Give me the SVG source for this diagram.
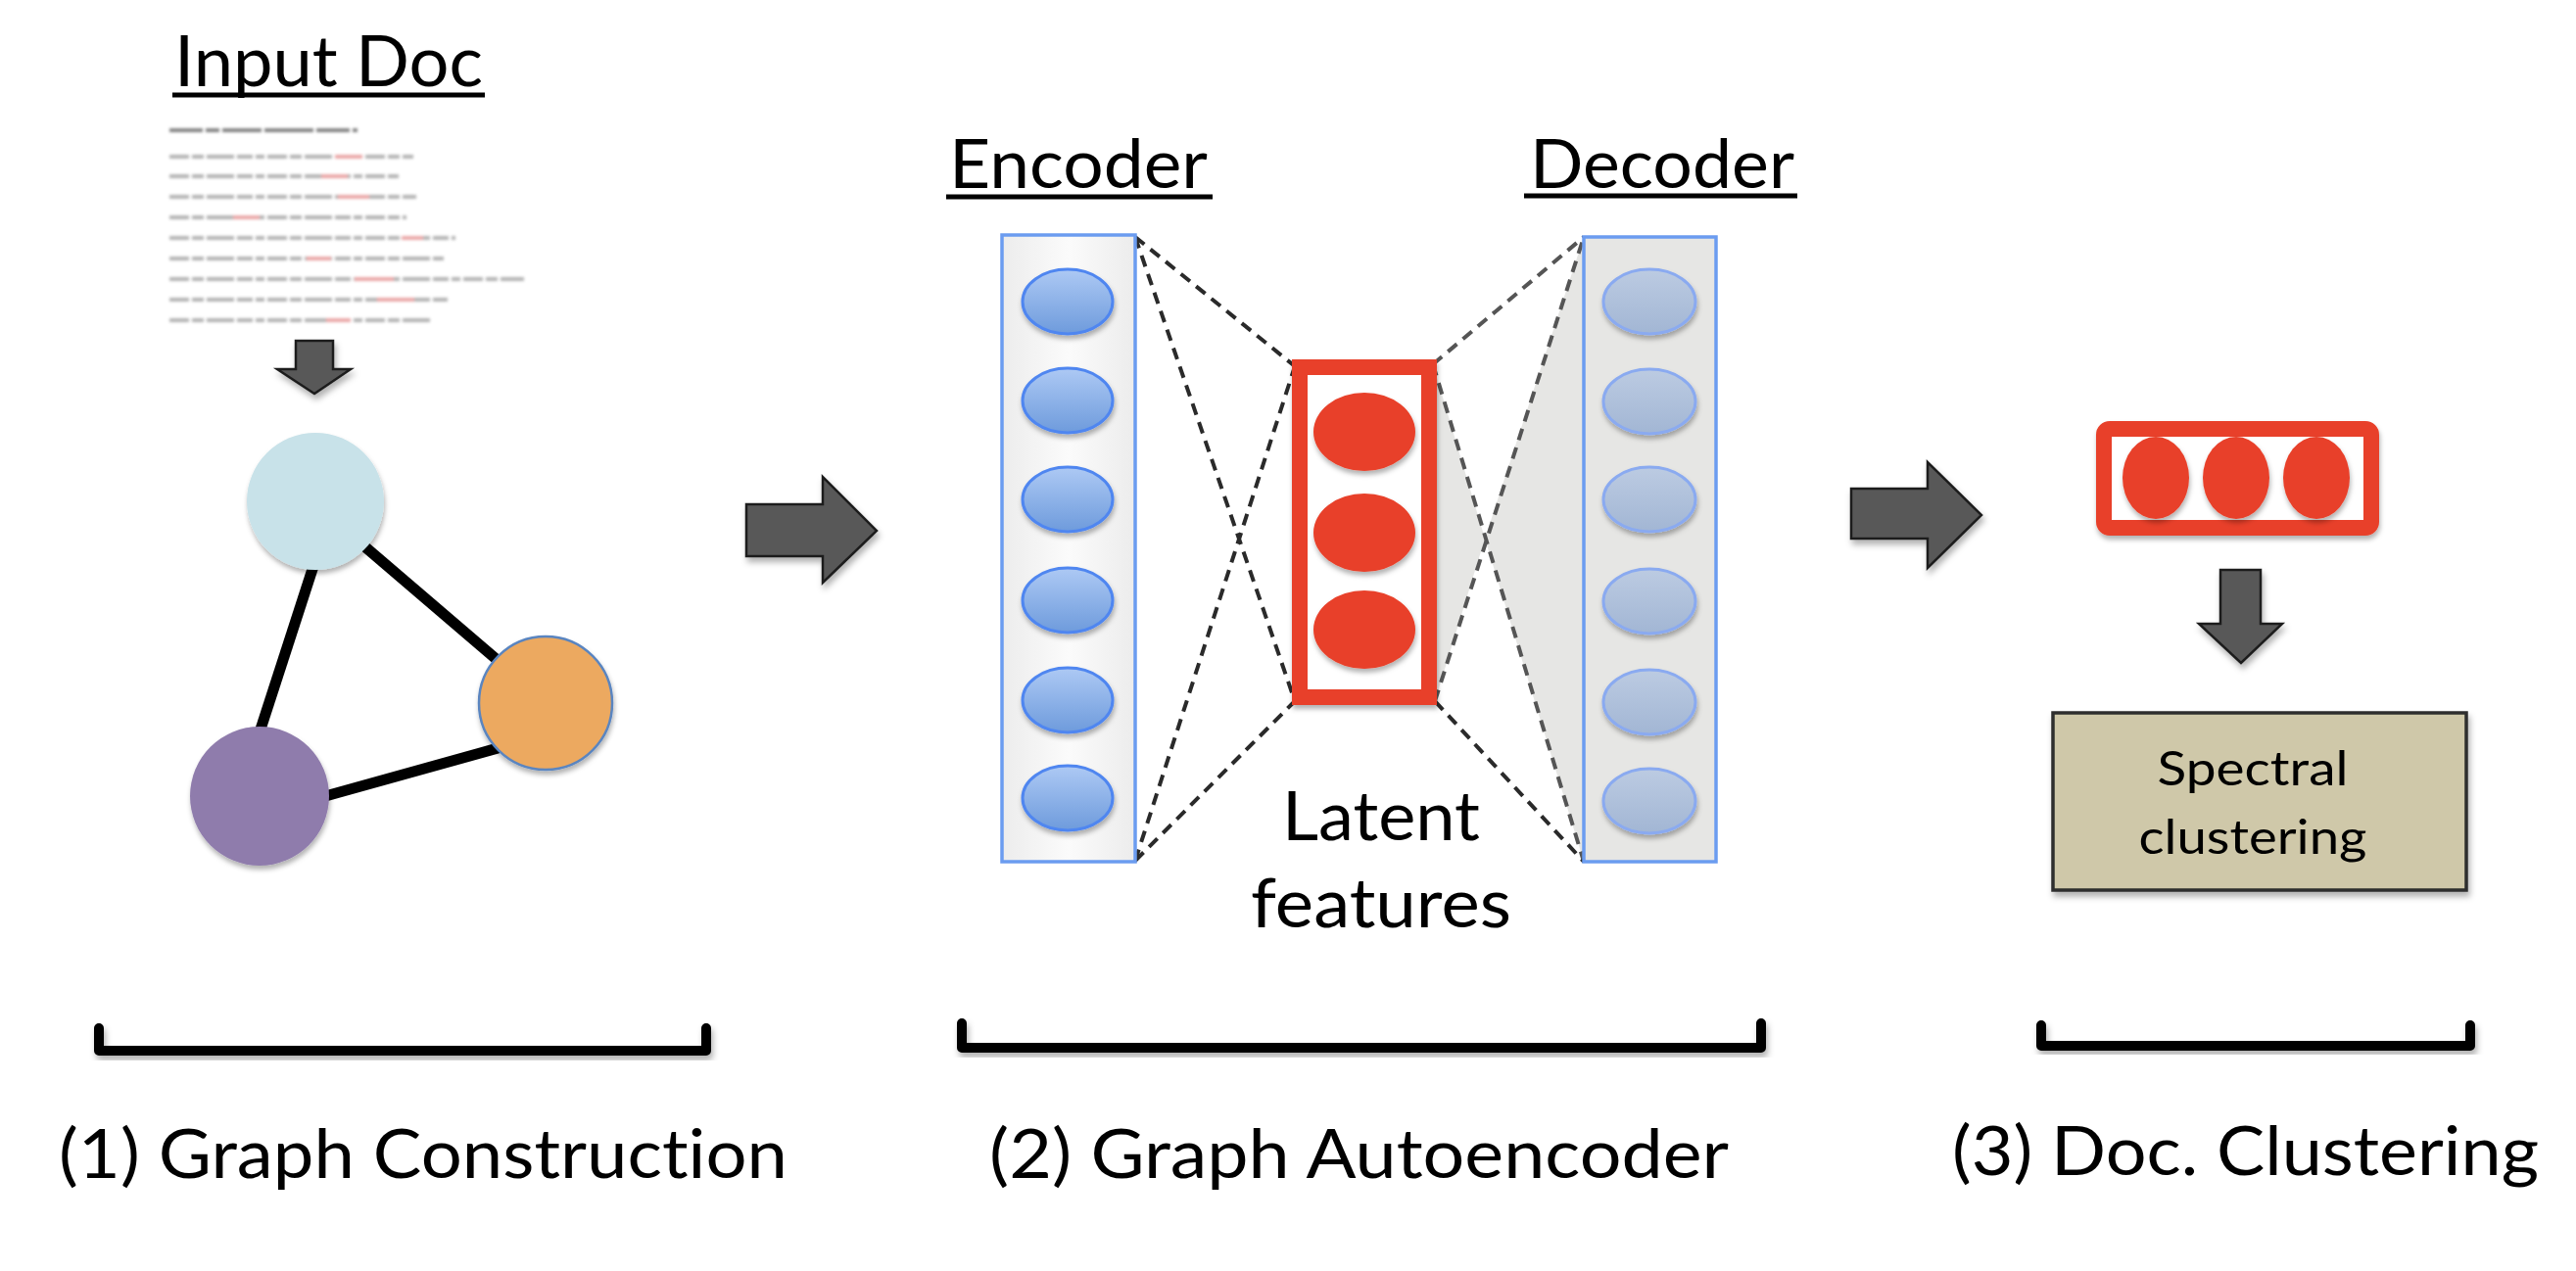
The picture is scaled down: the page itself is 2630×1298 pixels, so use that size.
<svg xmlns="http://www.w3.org/2000/svg" width="2630" height="1298" viewBox="0 0 2630 1298">
<style>
  .t { font-family: Lato, "Liberation Sans", sans-serif; fill: #000; font-variant-ligatures: none; }
  .lbl { font-size: 70px; }
  .ul { stroke: #000; stroke-width: 5; }
  .arrow { fill: #595959; stroke: #1e1e1e; stroke-width: 2.5; stroke-linejoin: miter; filter: url(#sh); }
  .edge { stroke: #000; stroke-width: 11; }
  .dash { fill: none; stroke: #2a2a2a; stroke-width: 4; stroke-dasharray: 12 8; }
  .dash2 { fill: none; stroke: #555; stroke-width: 4; stroke-dasharray: 12 8; }
  .enc { fill: url(#gEnc); stroke: #4f86f0; stroke-width: 3; filter: url(#shs); }
  .dec { fill: url(#gDec); stroke: #8aaaf0; stroke-width: 3; filter: url(#shs); }
  .red { fill: #e8412a; filter: url(#shs); }
  .brk { fill: none; stroke: #000; stroke-width: 10; stroke-linecap: round; stroke-linejoin: round; filter: url(#sh); }
  .docl { stroke: #b4b4b4; stroke-width: 4; stroke-dasharray: 20 3 12 3 28 3 16 3 9 3; }
  .docr { stroke: #eaa8a8; stroke-width: 4; }
</style>
<defs>
  <filter id="sh" x="-20%" y="-20%" width="140%" height="160%">
    <feDropShadow dx="2" dy="5" stdDeviation="3" flood-color="#000" flood-opacity="0.3"/>
  </filter>
  <filter id="shs" x="-20%" y="-20%" width="140%" height="160%">
    <feDropShadow dx="1" dy="4" stdDeviation="2.5" flood-color="#000" flood-opacity="0.3"/>
  </filter>
  <filter id="blur" filterUnits="userSpaceOnUse" x="150" y="110" width="420" height="240">
    <feGaussianBlur stdDeviation="1.4"/>
  </filter>
  <linearGradient id="gEnc" x1="0" y1="0" x2="0" y2="1">
    <stop offset="0" stop-color="#adc9f4"/>
    <stop offset="1" stop-color="#6e9bdc"/>
  </linearGradient>
  <linearGradient id="gDec" x1="0" y1="0" x2="0" y2="1">
    <stop offset="0" stop-color="#bccbe2"/>
    <stop offset="1" stop-color="#a2b6d4"/>
  </linearGradient>
  <linearGradient id="gEncBox" x1="0" y1="0" x2="1" y2="0">
    <stop offset="0" stop-color="#ececec"/>
    <stop offset="0.5" stop-color="#fbfbfb"/>
    <stop offset="1" stop-color="#ececec"/>
  </linearGradient>
</defs>
<rect width="2630" height="1298" fill="#fff"/>

<!-- Stage 1: input doc -->
<g id="input-doc">
  <text class="t" x="178" y="88" font-size="71" textLength="315" lengthAdjust="spacingAndGlyphs">Input Doc</text>
  <line class="ul" x1="176" y1="97" x2="495" y2="97"/>
  <g filter="url(#blur)">
    <line x1="173" y1="133" x2="365" y2="133" stroke="#858585" stroke-width="4" stroke-dasharray="34 3 14 3 40 3 50 3"/>
    <line class="docl" x1="173" y1="160" x2="422" y2="160"/>
    <line class="docl" x1="173" y1="180" x2="407" y2="180"/>
    <line class="docl" x1="173" y1="201" x2="425" y2="201"/>
    <line class="docl" x1="173" y1="222" x2="415" y2="222"/>
    <line class="docl" x1="173" y1="243" x2="465" y2="243"/>
    <line class="docl" x1="173" y1="264" x2="453" y2="264"/>
    <line class="docl" x1="173" y1="285" x2="535" y2="285"/>
    <line class="docl" x1="173" y1="306" x2="457" y2="306"/>
    <line class="docl" x1="173" y1="327" x2="440" y2="327"/>
    <line class="docr" x1="342" y1="160" x2="370" y2="160"/>
    <line class="docr" x1="328" y1="180" x2="355" y2="180"/>
    <line class="docr" x1="345" y1="201" x2="377" y2="201"/>
    <line class="docr" x1="238" y1="222" x2="265" y2="222"/>
    <line class="docr" x1="410" y1="243" x2="432" y2="243"/>
    <line class="docr" x1="313" y1="264" x2="338" y2="264"/>
    <line class="docr" x1="362" y1="285" x2="402" y2="285"/>
    <line class="docr" x1="385" y1="306" x2="423" y2="306"/>
    <line class="docr" x1="333" y1="327" x2="358" y2="327"/>
  </g>
</g>

<!-- connectors -->
<g id="connectors">
  <path class="arrow" d="M302,348 H340 V377 H358 L321,402 L283,377 H302 Z"/>
  <line class="edge" x1="333" y1="538" x2="252" y2="788"/>
  <line class="edge" x1="350" y1="539" x2="530" y2="693"/>
  <line class="edge" x1="300" y1="822" x2="530" y2="758"/>
  <path class="arrow" d="M762,515 H840 V487 L895,542 L840,595 V568 H762 Z"/>
  <path class="arrow" d="M1890,499 H1968 V472 L2023,526 L1968,580 V550 H1890 Z"/>
  <path class="arrow" d="M2267,582 H2308 V637 H2330 L2288,677 L2245,637 H2267 Z"/>
  <polygon points="1463,372 1516,550 1617,242 1617,880 1516,550 1465,716" fill="#e6e6e4"/>
  <line class="dash" x1="1159" y1="242" x2="1322" y2="374"/>
  <line class="dash" x1="1159" y1="242" x2="1322" y2="716"/>
  <line class="dash" x1="1159" y1="879" x2="1322" y2="374"/>
  <line class="dash" x1="1159" y1="879" x2="1322" y2="716"/>
  <line class="dash2" x1="1463" y1="372" x2="1617" y2="242" stroke="#8a8a8a"/>
  <line class="dash2" x1="1463" y1="372" x2="1617" y2="880"/>
  <line class="dash2" x1="1465" y1="716" x2="1617" y2="242"/>
  <line class="dash" x1="1465" y1="716" x2="1617" y2="880"/>
</g>

<!-- graph nodes -->
<g id="node-blue"><circle cx="322" cy="512" r="70" fill="#c8e2e9" filter="url(#shs)"/></g>
<g id="node-orange"><circle cx="557" cy="718" r="68" fill="#eca960" stroke="#5a85c0" stroke-width="2.5" filter="url(#shs)"/></g>
<g id="node-purple"><circle cx="265" cy="813" r="71" fill="#8f7cac" filter="url(#shs)"/></g>

<!-- Encoder -->
<g id="encoder">
  <text class="t" x="969" y="192" font-size="70" textLength="264" lengthAdjust="spacingAndGlyphs">Encoder</text>
  <line class="ul" x1="966" y1="201" x2="1238" y2="201"/>
  <rect x="1023" y="240" width="136" height="640" fill="url(#gEncBox)" stroke="#6b9cf0" stroke-width="3.5"/>
  <ellipse class="enc" cx="1090" cy="308" rx="46" ry="33"/>
  <ellipse class="enc" cx="1090" cy="409" rx="46" ry="33"/>
  <ellipse class="enc" cx="1090" cy="510" rx="46" ry="33"/>
  <ellipse class="enc" cx="1090" cy="613" rx="46" ry="33"/>
  <ellipse class="enc" cx="1090" cy="715" rx="46" ry="33"/>
  <ellipse class="enc" cx="1090" cy="815" rx="46" ry="33"/>
</g>

<!-- Latent -->
<g id="latent">
  <rect x="1327" y="375" width="132" height="337" fill="#fff" stroke="#e8412a" stroke-width="16" filter="url(#shs)"/>
  <ellipse class="red" cx="1393" cy="441" rx="52" ry="40"/>
  <ellipse class="red" cx="1393" cy="544" rx="52" ry="40"/>
  <ellipse class="red" cx="1393" cy="643" rx="52" ry="40"/>
  <text class="t lbl" x="1410" y="858" text-anchor="middle" textLength="202" lengthAdjust="spacingAndGlyphs">Latent</text>
  <text class="t lbl" x="1410" y="947" text-anchor="middle" textLength="266" lengthAdjust="spacingAndGlyphs">features</text>
</g>

<!-- Decoder -->
<g id="decoder">
  <text class="t" x="1562" y="192" font-size="70" textLength="270" lengthAdjust="spacingAndGlyphs">Decoder</text>
  <line class="ul" x1="1556" y1="200" x2="1835" y2="200"/>
  <rect x="1617" y="242" width="135" height="638" fill="#e6e6e4" stroke="#6b9cf0" stroke-width="3.5"/>
  <ellipse class="dec" cx="1684" cy="308" rx="47" ry="33"/>
  <ellipse class="dec" cx="1684" cy="410" rx="47" ry="33"/>
  <ellipse class="dec" cx="1684" cy="510" rx="47" ry="33"/>
  <ellipse class="dec" cx="1684" cy="614" rx="47" ry="33"/>
  <ellipse class="dec" cx="1684" cy="717" rx="47" ry="33"/>
  <ellipse class="dec" cx="1684" cy="818" rx="47" ry="33"/>
</g>

<!-- Stage 3 -->
<g id="features-row">
  <rect x="2148" y="438" width="273" height="101" rx="6" fill="#fff" stroke="#e8412a" stroke-width="16" filter="url(#shs)"/>
  <ellipse class="red" cx="2201" cy="488" rx="34" ry="42"/>
  <ellipse class="red" cx="2283" cy="488" rx="34" ry="42"/>
  <ellipse class="red" cx="2365" cy="488" rx="34" ry="42"/>
</g>
<g id="spectral">
  <rect x="2096" y="728" width="422" height="181" fill="#cfc8a9" stroke="#2e2e2e" stroke-width="3.5" filter="url(#sh)"/>
  <text class="t" x="2300" y="802" font-size="49" text-anchor="middle" textLength="195" lengthAdjust="spacingAndGlyphs">Spectral</text>
  <text class="t" x="2300" y="872" font-size="49" text-anchor="middle" textLength="233" lengthAdjust="spacingAndGlyphs">clustering</text>
</g>

<!-- Brackets and stage labels -->
<g id="stage1">
  <path class="brk" d="M101,1050 V1073 H721 V1050"/>
  <text class="t lbl" x="60" y="1203" textLength="744" lengthAdjust="spacingAndGlyphs">(1) Graph Construction</text>
</g>
<g id="stage2">
  <path class="brk" d="M982,1045 V1070 H1798 V1045"/>
  <text class="t lbl" x="1010" y="1203" textLength="755" lengthAdjust="spacingAndGlyphs">(2) Graph Autoencoder</text>
</g>
<g id="stage3">
  <path class="brk" d="M2084,1047 V1068 H2522 V1047"/>
  <text class="t lbl" x="1993" y="1200" textLength="599" lengthAdjust="spacingAndGlyphs">(3) Doc. Clustering</text>
</g>
</svg>
